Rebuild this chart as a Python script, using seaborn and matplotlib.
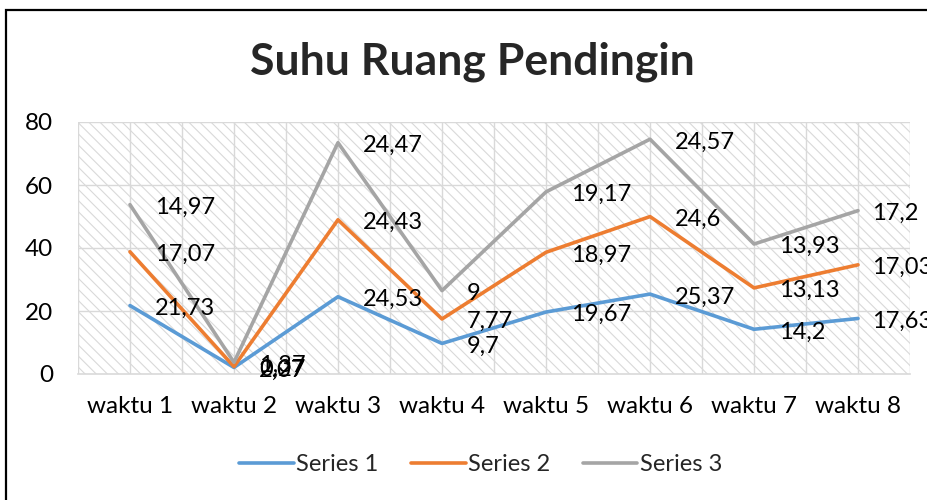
import numpy as np
import pandas as pd
import matplotlib
matplotlib.use('Agg')
import matplotlib.pyplot as plt
import seaborn as sns
from matplotlib.patches import Rectangle

# chart data (stacked line chart, values as shown in the labels)
waktu = ['waktu 1', 'waktu 2', 'waktu 3', 'waktu 4', 'waktu 5', 'waktu 6', 'waktu 7', 'waktu 8']
series_names = ['Series 1', 'Series 2', 'Series 3']
series_1 = [21.73, 2.07, 24.53, 9.7, 19.67, 25.37, 14.2, 17.63]
series_2 = [17.07, 0.27, 24.43, 7.77, 18.97, 24.6, 13.13, 17.03]
series_3 = [14.97, 1.37, 24.47, 9, 19.17, 24.57, 13.93, 17.2]
colors = ['#5B9BD5', '#ED7D31', '#A5A5A5']

sns.set_style('white')
plt.rcParams['font.family'] = ['Lato', 'DejaVu Sans']
plt.rcParams['hatch.color'] = '#d9d9d9'
plt.rcParams['hatch.linewidth'] = 0.8

vals = np.array([series_1, series_2, series_3])
cum = vals.cumsum(axis=0)

rows = []
for i, name in enumerate(series_names):
    for j, w in enumerate(waktu):
        rows.append({'waktu': w, 'series': name, 'nilai': vals[i, j], 'kumulatif': cum[i, j]})
df = pd.DataFrame(rows)

fig = plt.figure(figsize=(9.27, 5.0), dpi=100)
ax = fig.add_axes([0.0841, 0.252, 0.8976, 0.504])

# hatched plot area
ax.add_patch(Rectangle((0, 0), 1, 1, transform=ax.transAxes, facecolor='white',
                       hatch='\\\\\\', edgecolor='#d9d9d9', linewidth=0, zorder=0))

sns.lineplot(data=df, x='waktu', y='kumulatif', hue='series', palette=colors,
             linewidth=2.6, ax=ax, sort=False, zorder=3)

# data labels to the right of each point (last column pulled in a bit)
for i, name in enumerate(series_names):
    for j in range(len(waktu)):
        txt = f'{vals[i, j]:g}'.replace('.', ',')
        dx = 10 if j == len(waktu) - 1 else 18
        ax.annotate(txt, (j, cum[i, j]), xytext=(dx, -2), textcoords='offset points',
                    ha='left', va='center', fontsize=17, color='black',
                    annotation_clip=False, zorder=4)

ax.set_xlim(-0.5, 7.5)
ax.set_ylim(0, 80)
ax.set_yticks([0, 20, 40, 60, 80])
for y in [20, 40, 60, 80]:
    ax.axhline(y, color='#d9d9d9', linewidth=1, zorder=1)
for x in np.arange(-0.5, 7.6, 0.5):
    ax.axvline(x, color='#d9d9d9', linewidth=1, zorder=1)

for s in ['top', 'right', 'left']:
    ax.spines[s].set_visible(False)
ax.spines['bottom'].set_color('#d9d9d9')
ax.spines['bottom'].set_linewidth(1.2)
ax.tick_params(axis='both', length=0, labelsize=17.5, colors='black')
ax.tick_params(axis='x', pad=16)
ax.tick_params(axis='y', pad=18)
ax.set_xlabel('')
ax.set_ylabel('')

fig.text(0.51, 0.877, 'Suhu Ruang Pendingin', ha='center', va='center',
         fontsize=32, fontweight='bold')

handles, labels = ax.get_legend_handles_labels()
ax.legend(handles, labels, loc='center', bbox_to_anchor=(0.484, -0.36), ncol=3,
          frameon=False, fontsize=17, handlelength=2.3, columnspacing=1.4,
          handletextpad=0.1)

# outer chart border (right and bottom edges fall outside the image)
fig.patches.append(Rectangle((0.0065, -0.05), 1.1, 0.98 + 0.05, transform=fig.transFigure,
                             fill=False, edgecolor='black', linewidth=1.6))

fig.savefig('out.png', dpi=100)
